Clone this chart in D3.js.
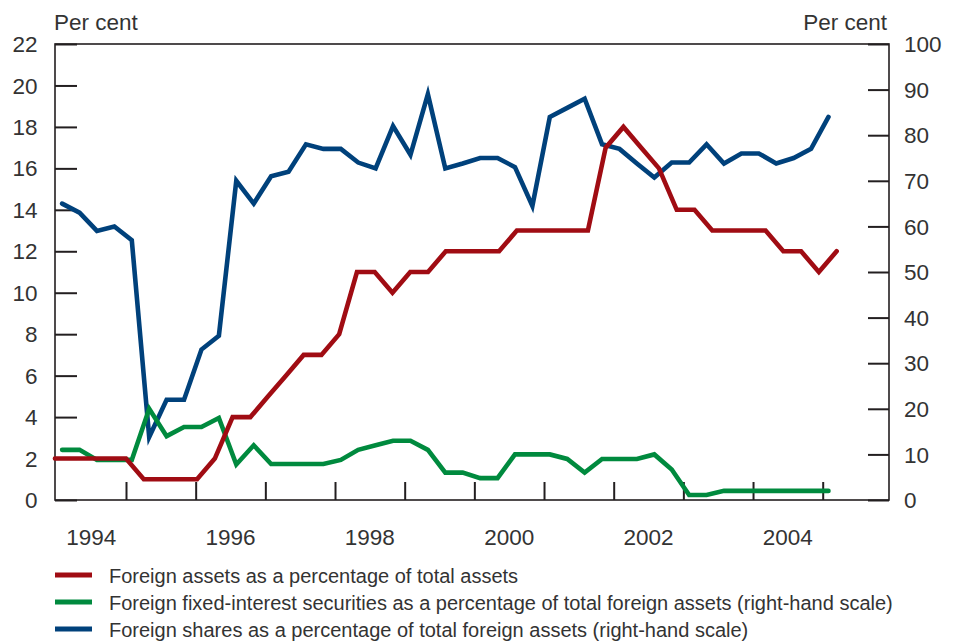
<!DOCTYPE html>
<html>
<head>
<meta charset="utf-8">
<script src="https://cdn.jsdelivr.net/npm/d3@7"></script>
<style>
  html, body { margin: 0; padding: 0; background: #fff; }
  svg { display: block; }
  text { font-family: "Liberation Sans", Arial, sans-serif; fill: #333; }
</style>
</head>
<body>
<svg id="chart" width="953" height="641"></svg>
<script>
// ---- Data ----
// Quarterly observations, 1994 Q1 to 2005 Q1
const quarters = [];
for (let y = 1994; y <= 2005; y++) for (let q = 1; q <= 4; q++) if (!(y === 2005 && q > 1)) quarters.push(y + " Q" + q);

// Foreign assets as a percentage of total assets (left-hand scale)
const foreignAssets = [2, 2, 2, 2, 2, 1, 1, 1, 1, 2, 4, 4, 5, 6, 7, 7, 8, 11, 11, 10, 11, 11, 12, 12, 12, 12, 13, 13, 13, 13, 13, 17, 18, 17, 16, 14, 14, 13, 13, 13, 13, 12, 12, 11, 12];

// Foreign fixed-interest securities as % of total foreign assets (right-hand scale)
const fixedInterest = [11, 11, 8.8, 8.8, 8.8, 20, 14, 16, 16, 18, 7.8, 12, 7.9, 7.9, 7.9, 7.9, 8.8, 11, 12, 13, 13, 11, 6, 6, 4.8, 4.8, 10, 10, 10, 9, 6, 9, 9, 9, 10, 6.7, 1.1, 1.1, 2, 2, 2, 2, 2, 2, 2];

// Foreign shares as % of total foreign assets (right-hand scale)
const foreignShares = [65, 63, 59, 60, 57, 13.8, 22, 22, 33, 36, 70, 65, 71, 72, 78, 77, 77, 74, 72.7, 82, 75.7, 89, 72.7, 73.8, 75, 75, 73, 64.5, 84, 86, 88, 78, 77, 73.8, 70.7, 74, 74, 78, 73.8, 76, 76, 73.8, 75, 77, 84];

const leftTicks = [0, 2, 4, 6, 8, 10, 12, 14, 16, 18, 20, 22];
const rightTicks = [0, 10, 20, 30, 40, 50, 60, 70, 80, 90, 100];
const yearTicks = [1995, 1996, 1997, 1998, 1999, 2000, 2001, 2002, 2003, 2004, 2005];
const yearLabels = [1994, 1996, 1998, 2000, 2002, 2004];

const legendLabels = [
  "Foreign assets as a percentage of total assets",
  "Foreign fixed-interest securities as a percentage of total foreign assets (right-hand scale)",
  "Foreign shares as a percentage of total foreign assets (right-hand scale)"
];

// ---- Layout ----
const frame = { left: 55, right: 889, top: 44, bottom: 500 };
const colors = { red: "#a00c13", green: "#008a3e", blue: "#00417b", axis: "#231f20" };
const axisFont = 22.5;

const svg = d3.select("#chart");

const x = d3.scaleLinear().domain([1995, 2005]).range([126, 822.7]);
const xRed = d3.scalePoint().domain(quarters).range([x(1993.98), x(2005.2)]);
const xQ = d3.scalePoint().domain(quarters).range([x(1994.083), x(2005.083)]);
const yL = d3.scaleLinear().domain([0, 22]).range([frame.bottom, frame.top]);
const yR = d3.scaleLinear().domain([0, 100]).range([frame.bottom, frame.top]);

// Frame
svg.append("rect")
  .attr("x", frame.left).attr("y", frame.top)
  .attr("width", frame.right - frame.left).attr("height", frame.bottom - frame.top)
  .attr("fill", "none").attr("stroke", colors.axis).attr("stroke-width", 1.6);

// Left axis
const leftAxis = d3.axisRight(yL).tickValues(leftTicks).tickSize(22).tickFormat("");
const gL = svg.append("g").attr("transform", `translate(${frame.left},0)`).call(leftAxis);
gL.select(".domain").remove();
gL.selectAll("line").attr("stroke", colors.axis).attr("stroke-width", 2);
svg.append("g").selectAll("text").data(leftTicks).join("text")
  .attr("x", 37.5).attr("y", d => yL(d)).attr("dy", "0.36em")
  .attr("text-anchor", "end").attr("font-size", axisFont).text(d => d);

// Right axis
const rightAxis = d3.axisLeft(yR).tickValues(rightTicks).tickSize(21).tickFormat("");
const gR = svg.append("g").attr("transform", `translate(${frame.right},0)`).call(rightAxis);
gR.select(".domain").remove();
gR.selectAll("line").attr("stroke", colors.axis).attr("stroke-width", 2);
svg.append("g").selectAll("text").data(rightTicks).join("text")
  .attr("x", 904).attr("y", d => yR(d)).attr("dy", "0.36em")
  .attr("text-anchor", "start").attr("font-size", axisFont).text(d => d);

// Bottom axis
const bottomAxis = d3.axisTop(x).tickValues(yearTicks).tickSize(18).tickFormat("");
const gB = svg.append("g").attr("transform", `translate(0,${frame.bottom})`).call(bottomAxis);
gB.select(".domain").remove();
gB.selectAll("line").attr("stroke", colors.axis).attr("stroke-width", 2);
svg.append("g").selectAll("text").data(yearLabels).join("text")
  .attr("x", d => x(d + 0.5)).attr("y", 545)
  .attr("text-anchor", "middle").attr("font-size", axisFont).text(d => d);

// Unit labels
svg.append("text").attr("x", 54).attr("y", 30).attr("font-size", axisFont).text("Per cent");
svg.append("text").attr("x", 887).attr("y", 30).attr("text-anchor", "end").attr("font-size", axisFont).text("Per cent");

// Lines
const lineShares = d3.line().x((d, i) => xQ(quarters[i])).y(d => yR(d));
const lineFixed = d3.line().x((d, i) => xQ(quarters[i])).y(d => yR(d));
const lineAssets = d3.line().x((d, i) => xRed(quarters[i])).y(d => yL(d));

const plot = svg.append("g");
plot.append("path").datum(foreignShares).attr("d", lineShares)
  .attr("fill", "none").attr("stroke", colors.blue).attr("stroke-width", 4.6)
  .attr("stroke-linejoin", "miter").attr("stroke-linecap", "round");
plot.append("path").datum(fixedInterest).attr("d", lineFixed)
  .attr("fill", "none").attr("stroke", colors.green).attr("stroke-width", 4.6)
  .attr("stroke-linejoin", "miter").attr("stroke-linecap", "round");
plot.append("path").datum(foreignAssets).attr("d", lineAssets)
  .attr("fill", "none").attr("stroke", colors.red).attr("stroke-width", 4.6)
  .attr("stroke-linejoin", "miter").attr("stroke-linecap", "round");

// Legend
const legendColors = [colors.red, colors.green, colors.blue];
const lg = svg.append("g");
legendLabels.forEach((label, i) => {
  const yy = 575 + i * 27;
  lg.append("line").attr("x1", 55).attr("x2", 92).attr("y1", yy).attr("y2", yy)
    .attr("stroke", legendColors[i]).attr("stroke-width", 5);
  lg.append("text").attr("x", 109).attr("y", yy + 7.5)
    .attr("font-size", 20).text(label);
});
</script>
</body>
</html>
